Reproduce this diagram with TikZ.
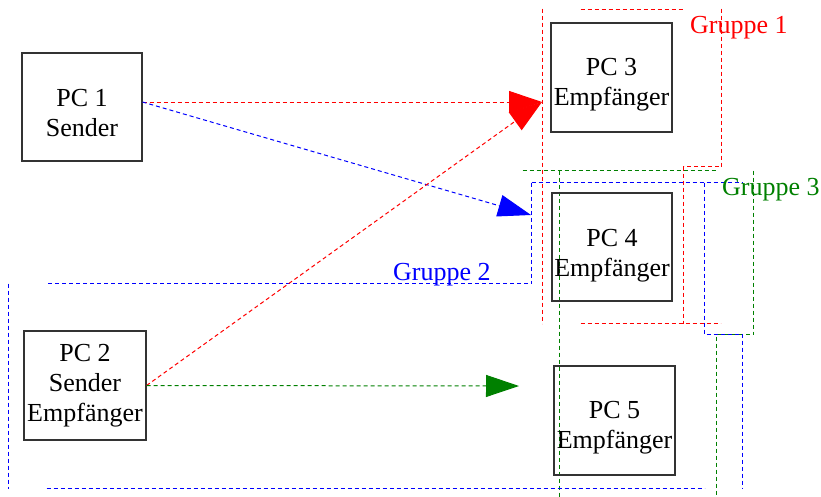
\documentclass[tikz,border=0pt]{standalone}
\usepackage{fontspec}
\setmainfont{Liberation Serif}
\usetikzlibrary{arrows.meta}
\definecolor{gred}{RGB}{255,0,0}
\definecolor{gblue}{RGB}{0,0,255}
\definecolor{ggreen}{RGB}{0,128,0}
\newcommand\tstrut[1]{\rule{0pt}{#1}}
\tikzset{
  pcbox/.style={draw=black!80, line width=1.1pt, fill=white, inner sep=0pt, align=center,
    font=\fontsize{26}{30}\selectfont},
  grp/.style={line width=1pt, dash pattern=on 4pt off 3pt},
  conn/.style={line width=1pt, dash pattern=on 4pt off 3pt, -{Triangle[length=33pt,width=22pt]}},
  glabel/.style={anchor=base west, inner sep=0pt, font=\fontsize{26}{30}\selectfont}
}
\begin{document}
\begin{tikzpicture}[x=1pt,y=-1pt]
\useasboundingbox[fill=white] (0,0) rectangle (821,496);

\begin{scope}[shift={(0.5,0.5)}]
% Gruppe 1 (red)
\draw[grp, gred] (542,8) -- (542,323);
\draw[grp, gred] (580,9) -- (683,9);
\draw[grp, gred] (721,8) -- (721,166) -- (683,166) -- (683,323);
\draw[grp, gred] (580,323) -- (720,323);
% Gruppe 3 (green)
\draw[grp, ggreen] (522,170) -- (715,170);
\draw[grp, ggreen] (559,170) -- (559,496);
\draw[grp, ggreen] (753,170) -- (753,334) -- (716,334) -- (716,496);
% Gruppe 2 (blue)
\draw[grp, gblue] (531,182) -- (742,182);
\draw[grp, gblue] (531,182) -- (531,283) -- (46,283);
\draw[grp, gblue] (8,283) -- (8,488);
\draw[grp, gblue] (46,488) -- (704,488);
\draw[grp, gblue] (704,182) -- (704,334) -- (742,334) -- (742,488);
\end{scope}

% PCs
\node[pcbox, minimum width=120pt, minimum height=108pt] (pc1) at (82,107) {\tstrut{30pt}PC 1\\Sender};
\node[pcbox, minimum width=122pt, minimum height=109pt] (pc2) at (85,385.5) {PC 2\\Sender\\Empfänger};
\node[pcbox, minimum width=121pt, minimum height=109pt] (pc3) at (611.5,77.5) {\tstrut{31pt}PC 3\\Empfänger};
\node[pcbox, minimum width=120pt, minimum height=108pt, fill=none] (pc4) at (612,247) {\tstrut{34pt}PC 4\\Empfänger};
\node[pcbox, minimum width=121pt, minimum height=109pt, fill=none] (pc5) at (614.5,420.5) {\tstrut{31pt}PC 5\\Empfänger};

% labels
\node[glabel, text=gred] (g1) at (690,33) {Gruppe 1};
\node[glabel, text=gblue] (g2) at (393,280) {Gruppe 2};
\node[glabel, text=ggreen] (g3) at (722,195) {Gruppe 3};

% arrow end points
\coordinate (t1) at (542,102);
\coordinate (t2) at (531,215);
\coordinate (t3) at (519,386);

% connectors
\draw[conn, gred] ([yshift=5pt]pc1.east) -- (t1);
\draw[conn, gblue] ([yshift=5pt]pc1.east) -- (t2);
\draw[conn, gred] (pc2.east) -- (t1);
\draw[conn, ggreen] (pc2.east) -- (t3);
\end{tikzpicture}
\end{document}
